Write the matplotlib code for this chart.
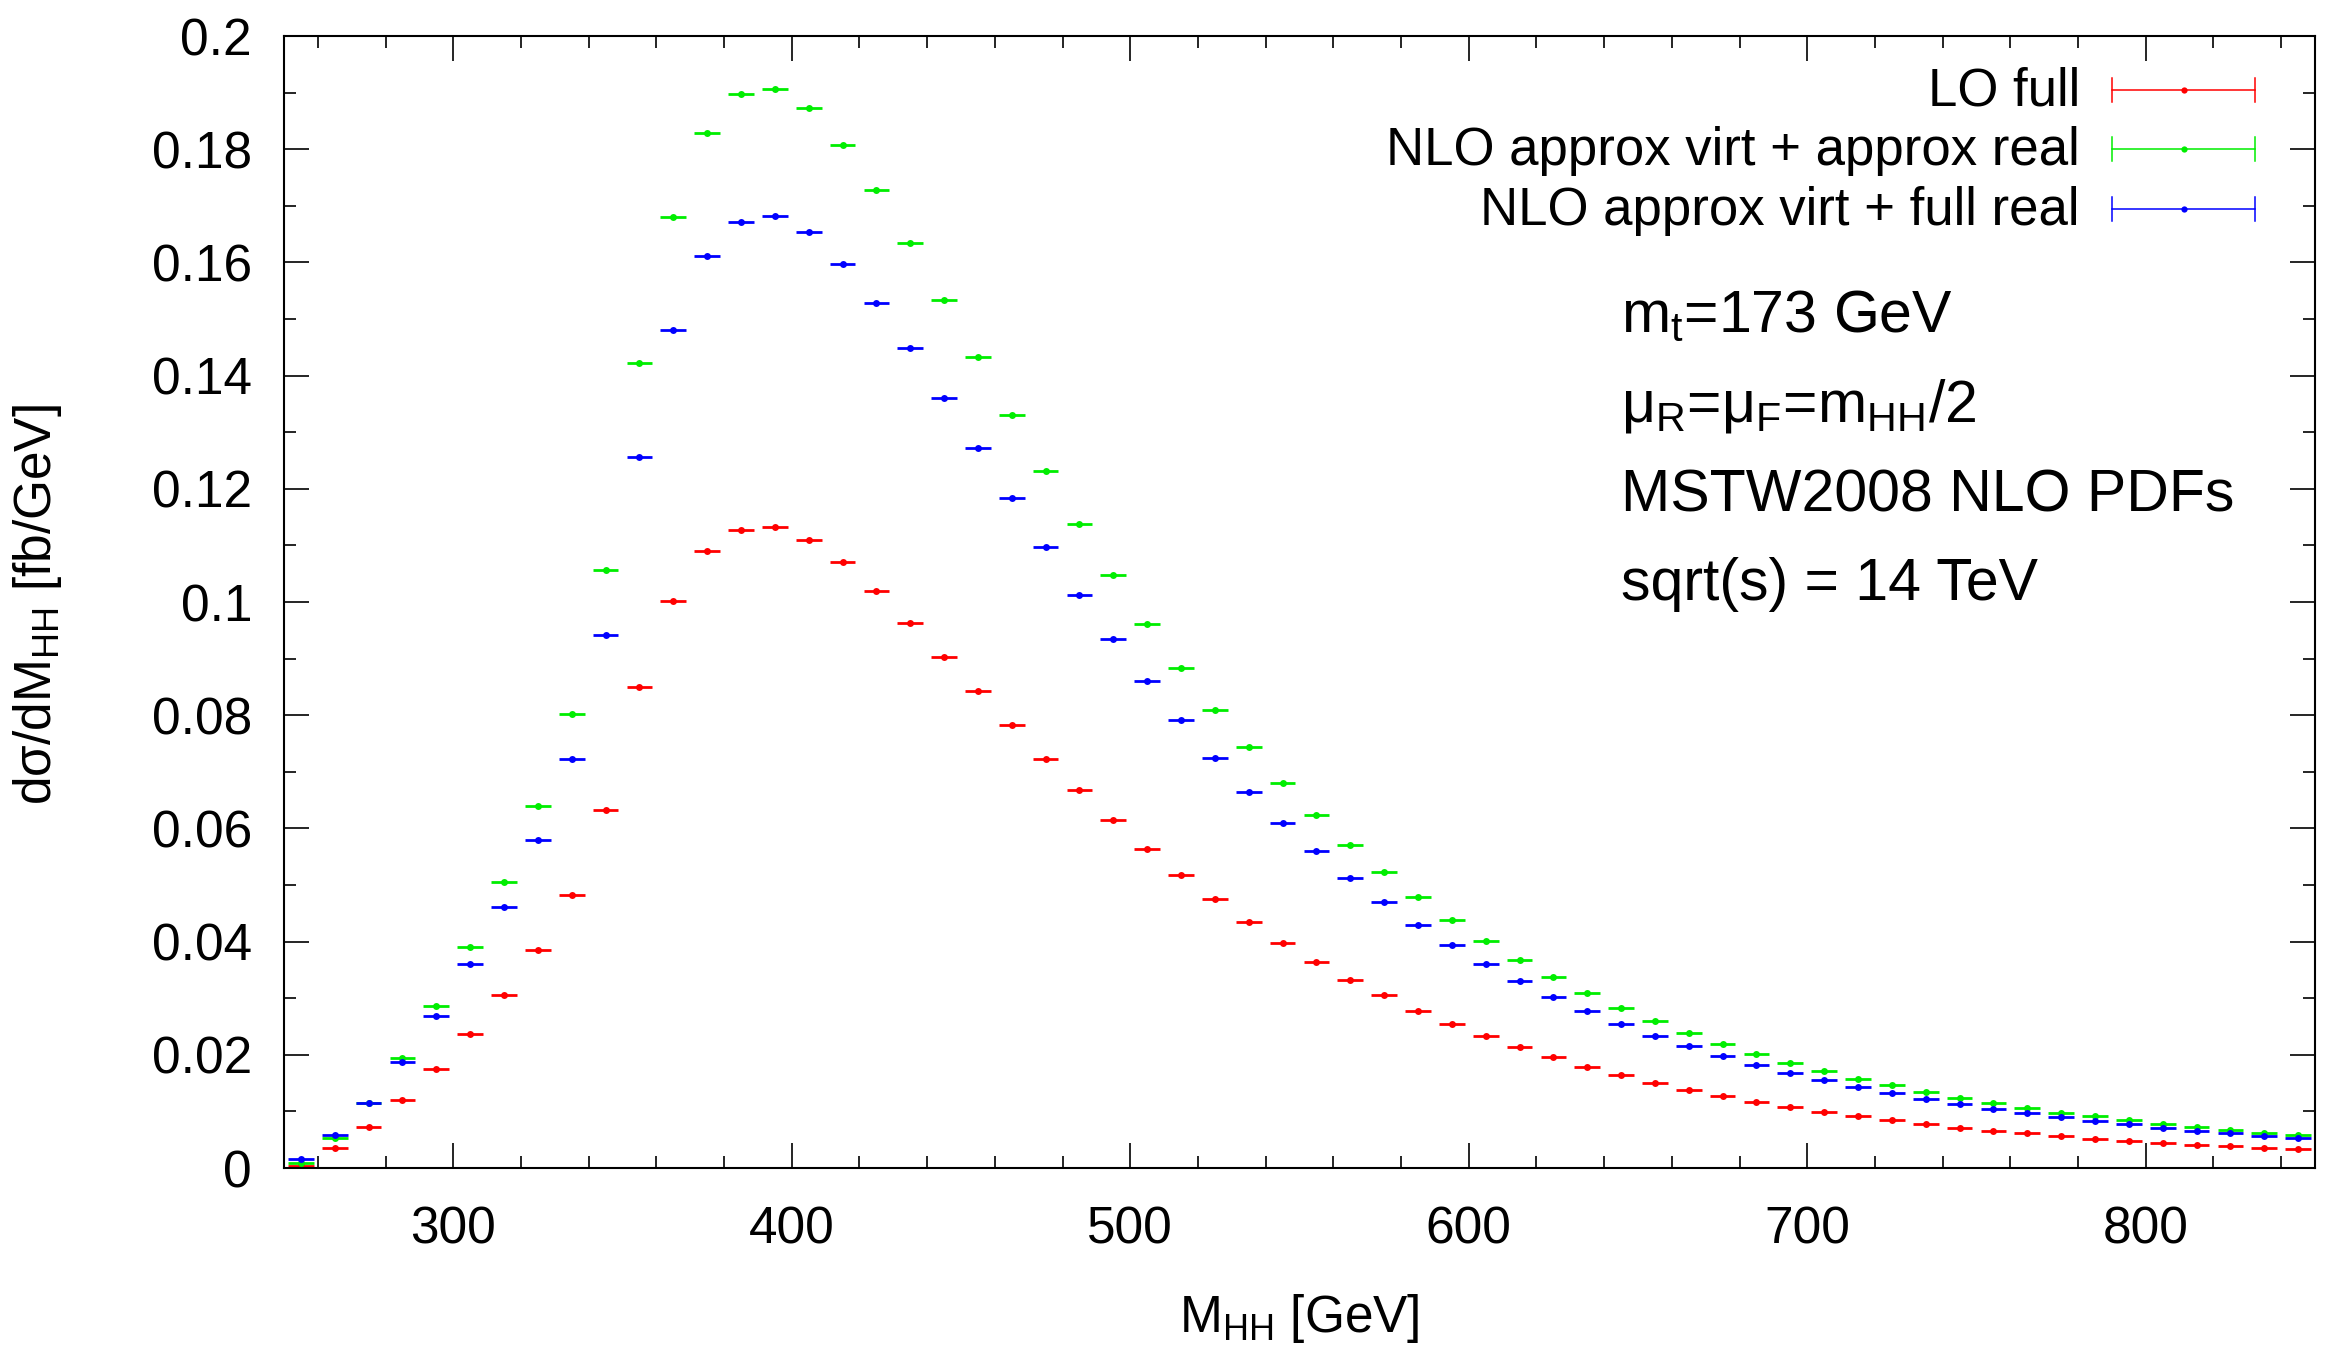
import numpy as np
import matplotlib
matplotlib.use("Agg")
import matplotlib.pyplot as plt
from matplotlib.ticker import MultipleLocator

plt.rcParams['font.family'] = ['Liberation Sans', 'DejaVu Sans']
plt.rcParams['mathtext.default'] = 'regular'

# bin centres of M_HH [GeV], 10 GeV bins from 250 to 850
m_hh = np.arange(255, 850, 10)
half_width = 3.8

lo_full = [0.0004, 0.0035, 0.0072, 0.0121, 0.0175, 0.0237, 0.0305, 0.0385, 0.0482, 0.0633,
           0.0850, 0.1002, 0.1090, 0.1128, 0.1132, 0.1110, 0.1070, 0.1020, 0.0963, 0.0903,
           0.0842, 0.0782, 0.0723, 0.0667, 0.0614, 0.0564, 0.0518, 0.0475, 0.0435, 0.0398,
           0.0364, 0.0333, 0.0305, 0.0278, 0.0255, 0.0233, 0.0214, 0.0196, 0.0179, 0.0164,
           0.0150, 0.0138, 0.0127, 0.0117, 0.0107, 0.0099, 0.0091, 0.0084, 0.0077, 0.0071,
           0.0066, 0.0061, 0.0056, 0.0052, 0.0048, 0.0044, 0.0041, 0.0038, 0.0035, 0.0033]

nlo_approx_real = [0.0008, 0.0053, 0.0115, 0.0195, 0.0287, 0.0390, 0.0505, 0.0640, 0.0802, 0.1057,
                   0.1422, 0.1680, 0.1828, 0.1898, 0.1906, 0.1872, 0.1808, 0.1728, 0.1635, 0.1533,
                   0.1432, 0.1330, 0.1232, 0.1138, 0.1048, 0.0962, 0.0883, 0.0810, 0.0743, 0.0681,
                   0.0623, 0.0571, 0.0523, 0.0478, 0.0438, 0.0401, 0.0368, 0.0337, 0.0309, 0.0283,
                   0.0260, 0.0239, 0.0219, 0.0201, 0.0186, 0.0171, 0.0158, 0.0146, 0.0134, 0.0124,
                   0.0115, 0.0106, 0.0098, 0.0091, 0.0084, 0.0078, 0.0072, 0.0067, 0.0062, 0.0058]

nlo_full_real = [0.0016, 0.0058, 0.0115, 0.0187, 0.0268, 0.0360, 0.0462, 0.0580, 0.0723, 0.0941,
                 0.1257, 0.1480, 0.1612, 0.1672, 0.1682, 0.1654, 0.1598, 0.1528, 0.1448, 0.1360,
                 0.1272, 0.1183, 0.1097, 0.1012, 0.0935, 0.0860, 0.0792, 0.0725, 0.0665, 0.0610,
                 0.0560, 0.0513, 0.0470, 0.0430, 0.0394, 0.0361, 0.0331, 0.0303, 0.0278, 0.0255,
                 0.0234, 0.0215, 0.0198, 0.0182, 0.0168, 0.0155, 0.0143, 0.0132, 0.0122, 0.0113,
                 0.0104, 0.0097, 0.0090, 0.0083, 0.0077, 0.0071, 0.0066, 0.0062, 0.0057, 0.0053]

labels = ["LO full", "NLO approx virt + approx real", "NLO approx virt + full real"]
colors = ["#ff0000", "#00ee00", "#0000ff"]
series = [lo_full, nlo_approx_real, nlo_full_real]

W, H = 2326, 1345
fig = plt.figure(figsize=(W / 100, H / 100), dpi=100)
ax = fig.add_axes([284 / W, 1 - 1168 / H, (2315 - 284) / W, (1168 - 36) / H])

for vals, col in zip(series, colors):
    ax.errorbar(m_hh, vals, xerr=half_width, fmt='o', color=col, ms=5,
                elinewidth=2.0, capsize=0, mew=0)

ax.set_xlim(250, 850)
ax.set_ylim(0, 0.2)
ax.xaxis.set_major_locator(MultipleLocator(100))
ax.xaxis.set_minor_locator(MultipleLocator(20))
ax.yaxis.set_minor_locator(MultipleLocator(0.01))
ax.set_yticks(np.arange(0, 0.201, 0.02))
ax.set_yticklabels(["0", "0.02", "0.04", "0.06", "0.08", "0.1", "0.12", "0.14", "0.16", "0.18", "0.2"])

ax.tick_params(which='both', direction='in', top=True, right=True, width=1.2, labelsize=37)
ax.tick_params(which='major', length=18)
ax.tick_params(which='minor', length=8.6)
ax.tick_params(axis='y', pad=23)
ax.tick_params(axis='x', pad=27)
for s in ax.spines.values():
    s.set_linewidth(1.5)

fig.text(1299 / W, 1 - 1332 / H, r"M$_{HH}$ [GeV]", ha='center', va='baseline', fontsize=37)
fig.text(38 / W, 1 - 605 / H, r"dσ/dM$_{HH}$ [fb/GeV]", ha='center', va='center',
         rotation=90, fontsize=37)

# legend, drawn by hand to match the gnuplot key
rows = [90, 149, 209]
for lab, col, yp in zip(labels, colors, rows):
    yf = 1 - yp / H
    fig.text(2080 / W, 1 - (yp + 16) / H, lab, ha='right', va='baseline', fontsize=38)
    x0, x1 = 2112 / W, 2255 / W
    cap = 12 / H
    fig.add_artist(plt.Line2D([x0, x1], [yf, yf], color=col, lw=1.1))
    fig.add_artist(plt.Line2D([x0, x0], [yf - cap, yf + cap], color=col, lw=1.1))
    fig.add_artist(plt.Line2D([x1, x1], [yf - cap, yf + cap], color=col, lw=1.1))
    fig.add_artist(plt.Line2D([(x0 + x1) / 2], [yf], color=col, marker='o', ms=4.5, mew=0))

notes = [r"m$_{t}$=173 GeV", r"μ$_{R}$=μ$_{F}$=m$_{HH}$/2", "MSTW2008 NLO PDFs", "sqrt(s) = 14 TeV"]
for txt, yb in zip(notes, [332, 422, 511, 600]):
    fig.text(1621 / W, 1 - yb / H, txt, ha='left', va='baseline', fontsize=42.5)

fig.savefig("out.png", dpi=100)
